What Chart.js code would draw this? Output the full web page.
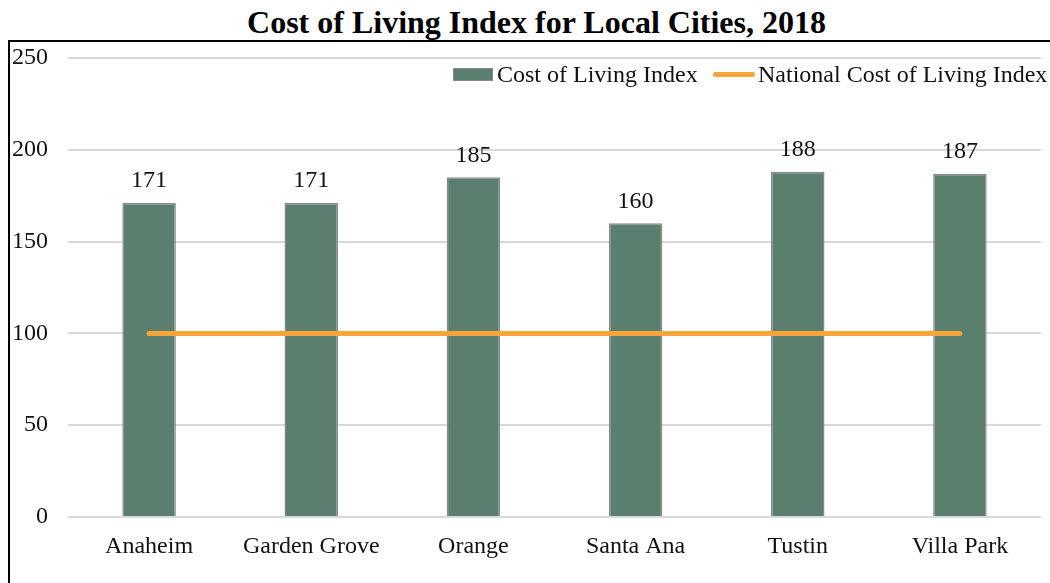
<!DOCTYPE html>
<html>
<head>
<meta charset="utf-8">
<script src="https://cdn.jsdelivr.net/npm/chart.js@4"></script>
<style>
    html, body { margin: 0; padding: 0; background: #fff; overflow: hidden; }
    body { width: 1050px; height: 583px; position: relative; font-family: "Liberation Serif", "Times New Roman", serif; }
    #frame { position: absolute; left: 8px; top: 40px; width: 1100px; height: 600px; border: 2px solid #000; }
    #title { position: absolute; left: 0; width: 1073px; top: 6px; text-align: center; font-size: 32px; line-height: 32px; font-weight: bold; color: #000; }
    #wrap { position: absolute; left: 0; top: 0; width: 1050px; height: 583px; }
    .leg-txt { position: absolute; top: 62px; font-size: 24px; line-height: 24px; color: #111; white-space: nowrap; }
    .leg-box { position: absolute; left: 453px; top: 68px; width: 38px; height: 11px; background: #5b7f6f; border: 1px solid #8a8a8a; }
    .leg-line { position: absolute; left: 713px; top: 72px; width: 42px; height: 5px; background: #f7a43b; border-radius: 3px; }
</style>
</head>
<body>
<div id="frame"></div>
<div id="title">Cost of Living Index for Local Cities, 2018</div>
<div id="wrap"><canvas id="costChart" width="1050" height="583"></canvas></div>
<div class="leg-box"></div>
<div class="leg-txt" style="left:497px">Cost of Living Index</div>
<div class="leg-line"></div>
<div class="leg-txt" style="left:758px">National Cost of Living Index</div>

<script>
/* ================================
   DADOS
================================ */
const cities = ['Anaheim', 'Garden Grove', 'Orange', 'Santa Ana', 'Tustin', 'Villa Park'];
const costIndex = [171, 171, 185, 160, 188, 187];
const nationalIndex = [100, 100, 100, 100, 100, 100];
const yTicks = [0, 50, 100, 150, 200, 250];

const FONT = '"Liberation Serif", "Times New Roman", serif';

// escreve o valor acima de cada barra (dataset 1 = barras)
const barLabels = {
    id: 'barLabels',
    afterDatasetsDraw(chart) {
        const ctx = chart.ctx;
        const meta = chart.getDatasetMeta(1);
        ctx.save();
        ctx.font = '24px ' + FONT;
        ctx.fillStyle = '#111';
        ctx.textAlign = 'center';
        ctx.textBaseline = 'middle';
        meta.data.forEach((bar, i) => {
            ctx.fillText(costIndex[i], bar.x, bar.y - 22);
        });
        ctx.restore();
    }
};

window.onload = () => {
    const ctx = document.getElementById('costChart').getContext('2d');
    new Chart(ctx, {
        data: {
            labels: cities,
            datasets: [
                {
                    type: 'line', label: 'National Cost of Living Index', data: nationalIndex,
                    borderColor: '#f7a43b', borderWidth: 5, borderCapStyle: 'round',
                    pointRadius: 0, fill: false, order: 0
                },
                {
                    type: 'bar', label: 'Cost of Living Index', data: costIndex,
                    backgroundColor: '#5b7f6f', borderColor: '#8a8a8a', borderWidth: 1.5,
                    barPercentage: 0.33, categoryPercentage: 1, order: 1
                }
            ]
        },
        options: {
            responsive: false,
            animation: false,
            layout: { padding: { left: 0, right: 9, top: 58, bottom: 0 } },
            plugins: { legend: { display: false }, tooltip: { enabled: false } },
            scales: {
                x: {
                    grid: { display: false },
                    border: { display: false },
                    ticks: { font: { family: FONT, size: 24 }, color: '#111', padding: 7 },
                    afterFit: s => { s.height = 66; }
                },
                y: {
                    min: 0, max: 250,
                    afterBuildTicks: s => { s.ticks = yTicks.map(v => ({ value: v })); },
                    grid: { color: '#d9d9d9', lineWidth: 2, drawTicks: false },
                    border: { display: false },
                    ticks: { font: { family: FONT, size: 24 }, color: '#111', padding: 20 },
                    afterFit: s => { s.width = 68; }
                }
            }
        },
        plugins: [barLabels]
    });
};
</script>
</body>
</html>
